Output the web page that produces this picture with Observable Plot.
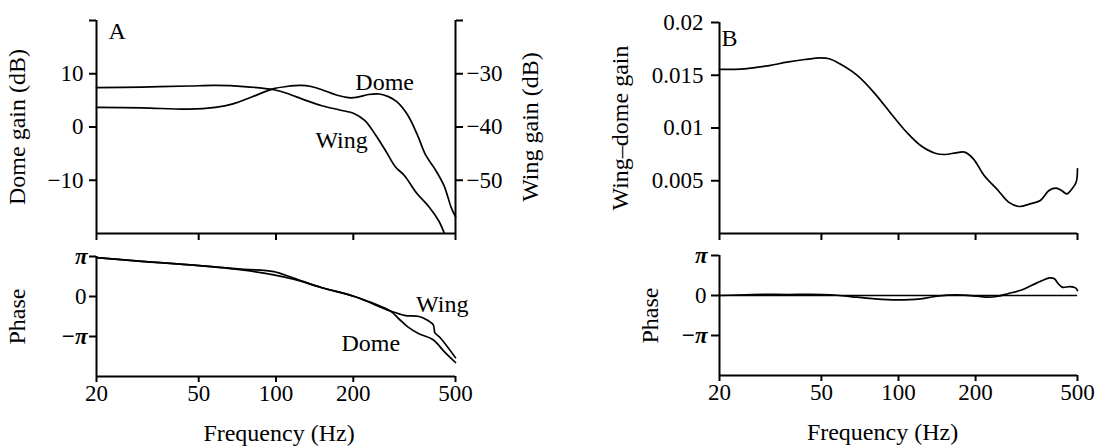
<!DOCTYPE html>
<html><head><meta charset="utf-8">
<script src="https://cdn.jsdelivr.net/npm/d3@7"></script>
<script src="https://cdn.jsdelivr.net/npm/@observablehq/plot@0.6"></script>
<style>
body{margin:0;background:#fff;}
#fig{position:relative;width:1104px;height:448px;overflow:hidden;background:#fff;}
#fig svg{position:absolute;}
</style></head><body><div id="fig"></div>
<script>
// ---------- data ----------
const freqTicks = [20, 50, 100, 200, 500];
const domeTicksDb = [20, 10, 0, -10];
const wingTicksDb = [-20, -30, -40, -50];
const wingToDomeDb = 40; // right axis = left axis - 40 dB
const piTicks = [1, -1];
const piTickLabels = ["π", "−π"];
const zeroTick = [0];
const ratioTicks = [0.005, 0.01, 0.015, 0.02];

const domeGainHz = [20, 30, 46, 58, 68, 80, 98, 110, 125, 137, 151, 172, 192, 208, 229, 253, 274, 296, 326, 354, 383, 416, 451, 481, 500];
const domeGainDb = [3.7, 3.6, 3.35, 3.7, 4.35, 5.6, 7.2, 7.6, 7.8, 7.6, 7.0, 6.0, 5.5, 5.6, 6.1, 6.2, 5.7, 4.7, 2.2, -1.3, -5.3, -7.9, -11.0, -15.1, -16.9];

const wingGainHz = [20, 30, 46, 58, 75, 98, 110, 129, 151, 177, 202, 222, 245, 269, 292, 316, 354, 396, 430, 451];
const wingGainDb = [-32.6, -32.5, -32.3, -32.2, -32.4, -33.0, -33.65, -34.9, -36.0, -36.8, -37.5, -38.8, -41.6, -44.7, -47.5, -49.1, -52.5, -55.1, -57.6, -59.8];

const domePhaseHz = [20, 30, 49, 75, 98, 117, 151, 202, 278, 300, 326, 360, 409, 451, 500];
const domePhasePi = [0.97, 0.88, 0.78, 0.66, 0.54, 0.43, 0.22, 0, -0.36, -0.55, -0.76, -0.93, -1.08, -1.37, -1.65];

const wingPhaseHz = [20, 30, 49, 75, 98, 117, 151, 202, 278, 316, 360, 378, 409, 416, 436, 500];
const wingPhasePi = [0.97, 0.88, 0.78, 0.68, 0.62, 0.46, 0.22, 0, -0.36, -0.47, -0.5, -0.55, -0.70, -0.91, -1.03, -1.53];

const ratioGainHz = [20, 25.1, 31.3, 36.7, 43, 49.6, 53.7, 59, 69, 81, 94.8, 107.6, 122, 139, 152, 168, 181, 196, 216, 245, 269, 296, 326, 358, 387, 413, 433, 454, 476, 494, 500];
const ratioGain = [0.01555, 0.01561, 0.01592, 0.01624, 0.01649, 0.01665, 0.01656, 0.01608, 0.01498, 0.01324, 0.01118, 0.0096, 0.00834, 0.00761, 0.00749, 0.00765, 0.00771, 0.00708, 0.0055, 0.00408, 0.00297, 0.00256, 0.00281, 0.00313, 0.00408, 0.0043, 0.00408, 0.00376, 0.00424, 0.00486, 0.00613];

const ratioPhaseHz = [20, 26.8, 36.7, 50.4, 59, 69, 81, 98, 122, 141, 168, 203, 223, 245, 269, 306, 347, 390, 406, 420, 435, 468, 491, 500];
const ratioPhasePi = [0, 0.025, 0.025, 0.025, 0, -0.043, -0.084, -0.109, -0.084, -0.018, 0.016, -0.018, -0.043, -0.018, 0.05, 0.15, 0.316, 0.44, 0.42, 0.3, 0.21, 0.22, 0.19, 0.124];

// annotation anchors in data units
const aGainNotes = [{x: 265, y: 7.0, t: "Dome"}, {x: 180, y: -4.0, t: "Wing"}];
const aPhaseNotes = [{x: 444, y: -0.39, t: "Wing"}, {x: 234, y: -1.35, t: "Dome"}];

// ---------- helpers ----------
const pts = (xs, ys) => xs.map((x, i) => ({x, y: ys[i]}));
const fmt = v => v < 0 ? "\u2212" + Math.abs(v) : String(v);
const style = {fontFamily: "'Liberation Serif','Times New Roman',serif", fontSize: "23px", background: "transparent", overflow: "visible", color: "#000"};
const lw = 1.7, aw = 2;
const FS = 24;
const xScale = {type: "log", domain: [20, 500], axis: null};
const fig = document.getElementById("fig");
function place(svg, left, top) { svg.style.left = left + "px"; svg.style.top = top + "px"; fig.appendChild(svg); }
const label = (t, o) => Plot.text([t], {text: d => d, fontSize: FS, textAnchor: "middle", ...o});
const xAxis = (labels) => Plot.axisX(freqTicks, {anchor: "bottom", tickSize: labels ? 6 : 7, tickPadding: 2, tickSpacing: 2, strokeWidth: aw, tickFormat: labels ? (d => String(d)) : (() => ""), label: null});
const phaseAxes = (size, pad) => [
  Plot.axisY(piTicks, {anchor: "left", tickSize: size, tickPadding: pad, strokeWidth: aw, fontStyle: "italic", fontWeight: "bold", tickFormat: d => piTickLabels[piTicks.indexOf(d)], label: null}),
  Plot.axisY(zeroTick, {anchor: "left", tickSize: size, tickPadding: pad + 1, strokeWidth: aw, tickFormat: d => String(d), label: null})
];

// ---------- A: gain ----------
const aGain = Plot.plot({
  width: 552, height: 245, marginLeft: 96, marginRight: 97, marginTop: 20, marginBottom: 12,
  style, x: xScale, y: {domain: [-20, 20], axis: null},
  marks: [
    Plot.ruleX([20], {strokeWidth: aw}),
    Plot.ruleX([500], {strokeWidth: aw}),
    Plot.ruleY([-20], {strokeWidth: aw}),
    Plot.axisY(domeTicksDb, {anchor: "left", tickSize: 7, tickPadding: 6, strokeWidth: aw, tickFormat: d => d === 20 ? "" : fmt(d), label: null}),
    Plot.axisY(wingTicksDb.map(w => w + wingToDomeDb), {anchor: "right", tickSize: 7, tickPadding: 4, strokeWidth: aw, tickFormat: d => d - wingToDomeDb === -20 ? "" : fmt(d - wingToDomeDb), label: null}),
    xAxis(false),
    Plot.line(pts(domeGainHz, domeGainDb), {x: "x", y: "y", curve: "catmull-rom", strokeWidth: lw}),
    Plot.line(pts(wingGainHz, wingGainDb), {x: "x", y: d => d.y + wingToDomeDb, curve: "catmull-rom", strokeWidth: lw}),
    Plot.text(aGainNotes, {x: "x", y: "y", text: "t", fontSize: FS, lineAnchor: "bottom"}),
    label("A", {frameAnchor: "top-left", dx: 12, dy: 18, textAnchor: "start", lineAnchor: "bottom"}),
    label("Dome gain (dB)", {frameAnchor: "left", dx: -79, rotate: -90}),
    label("Wing gain (dB)", {frameAnchor: "right", dx: 75, rotate: -90})
  ]
});
place(aGain, 0, 0);

// ---------- A: phase ----------
const aPhase = Plot.plot({
  width: 552, height: 203, marginLeft: 96, marginRight: 97, marginTop: 11, marginBottom: 72,
  style, x: xScale, y: {domain: [-2, 1], axis: null},
  marks: [
    Plot.ruleX([20], {strokeWidth: aw}),
    Plot.ruleY([-2], {strokeWidth: aw}),
    ...phaseAxes(7, 2),
    xAxis(true),
    Plot.line(pts(domePhaseHz, domePhasePi), {x: "x", y: "y", curve: "catmull-rom", strokeWidth: lw}),
    Plot.line(pts(wingPhaseHz, wingPhasePi), {x: "x", y: "y", curve: "catmull-rom", strokeWidth: lw}),
    Plot.text(aPhaseNotes, {x: "x", y: "y", text: "t", fontSize: FS, lineAnchor: "bottom"}),
    label("Phase", {frameAnchor: "left", dx: -79, rotate: -90}),
    label("Frequency (Hz)", {frameAnchor: "bottom", dx: 3, dy: 64, lineAnchor: "bottom"})
  ]
});
place(aPhase, 0, 245);

// ---------- B: gain ratio ----------
const bGain = Plot.plot({
  width: 552, height: 245, marginLeft: 167, marginRight: 27, marginTop: 22, marginBottom: 12,
  style, x: xScale, y: {domain: [0, 0.02], axis: null},
  marks: [
    Plot.ruleX([20], {strokeWidth: aw}),
    Plot.ruleY([0], {strokeWidth: aw}),
    Plot.axisY(ratioTicks, {anchor: "left", tickSize: 8, tickPadding: 8, strokeWidth: aw, tickFormat: d => String(d), label: null}),
    xAxis(false),
    Plot.line(pts(ratioGainHz, ratioGain), {x: "x", y: "y", curve: "catmull-rom", strokeWidth: lw}),
    label("B", {frameAnchor: "top-left", dx: 2, dy: 23, textAnchor: "start", lineAnchor: "bottom"}),
    label("Wing–dome gain", {frameAnchor: "left", dx: -99, rotate: -90})
  ]
});
place(bGain, 552, 0);

// ---------- B: phase ----------
const bPhase = Plot.plot({
  width: 552, height: 203, marginLeft: 167, marginRight: 27, marginTop: 10, marginBottom: 73,
  style, x: xScale, y: {domain: [-2, 1], axis: null},
  marks: [
    Plot.ruleX([20], {strokeWidth: aw}),
    Plot.ruleY([-2], {strokeWidth: aw}),
    Plot.ruleY([0], {strokeWidth: lw}),
    ...phaseAxes(8, 4),
    xAxis(true),
    Plot.line(pts(ratioPhaseHz, ratioPhasePi), {x: "x", y: "y", curve: "catmull-rom", strokeWidth: lw}),
    label("Phase", {frameAnchor: "left", dx: -69, rotate: -90}),
    label("Frequency (Hz)", {frameAnchor: "bottom", dx: -16, dy: 64, lineAnchor: "bottom"})
  ]
});
place(bPhase, 552, 245);
</script></body></html>
